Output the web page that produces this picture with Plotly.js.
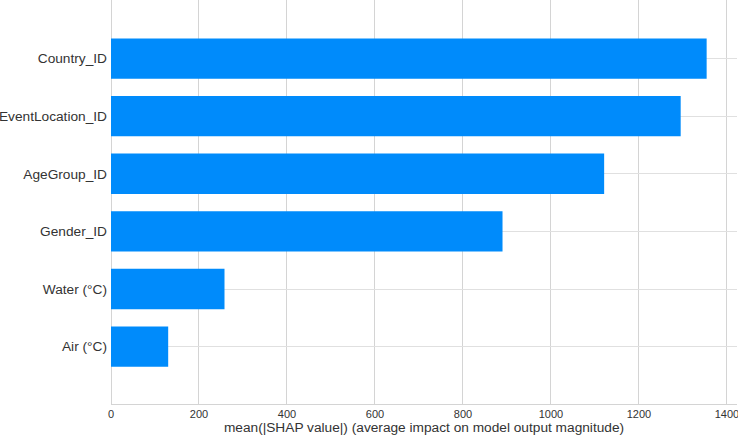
<!DOCTYPE html>
<html>
<head>
<meta charset="utf-8">
<script src="https://cdn.plot.ly/plotly-3.0.1.min.js"></script>
<style>
  html, body { margin: 0; padding: 0; background: #fff; }
  #graph { width: 738px; height: 436px; }
</style>
</head>
<body>
<div id="graph"></div>
<script>
// features, top to bottom
const features = ['Country_ID', 'EventLocation_ID', 'AgeGroup_ID', 'Gender_ID', 'Water (°C)', 'Air (°C)']
const meanShap = [1354, 1295, 1121, 890, 258, 130]
const xTicks = [0, 200, 400, 600, 800, 1000, 1200, 1400]

const graphData = [
    {
        x: meanShap,
        y: features,
        type: 'bar',
        orientation: 'h',
        width: 0.7,
        marker: { color: '#008bfb', line: { width: 0 } },
        hoverinfo: 'x+y',
    }
]

const layout = {
    width: 738,
    height: 436,
    margin: { l: 111, r: 1, t: 0, b: 32 },
    paper_bgcolor: '#ffffff',
    plot_bgcolor: '#ffffff',
    font: { family: 'Liberation Sans, Arial, sans-serif', color: '#333333' },
    showlegend: false,
    xaxis: {
        range: [0, 1423],
        tickvals: xTicks,
        ticktext: xTicks.map(String),
        ticklabeloverflow: 'allow',
        showgrid: true,
        gridcolor: '#d4d4d4',
        gridwidth: 1,
        zeroline: true,
        zerolinecolor: '#d4d4d4',
        zerolinewidth: 1,
        showline: true,
        linecolor: '#d4d4d4',
        linewidth: 1,
        ticks: '',
        tickfont: { size: 11, color: '#333333' },
        title: {
            text: 'mean(|SHAP value|) (average impact on model output magnitude)',
            font: { size: 13.7, color: '#333333' },
            standoff: 2,
        },
        automargin: false,
    },
    yaxis: {
        type: 'category',
        range: [5.995, -1.016],
        showgrid: true,
        gridcolor: '#e0e0e0',
        gridwidth: 1,
        zeroline: false,
        showline: false,
        ticks: '',
        ticklabelstandoff: 3,
        tickfont: { size: 13.7, color: '#333333' },
        automargin: false,
    },
    bargap: 0.3,
}

Plotly.newPlot('graph', graphData, layout, { displayModeBar: false, staticPlot: true })
</script>
</body>
</html>
